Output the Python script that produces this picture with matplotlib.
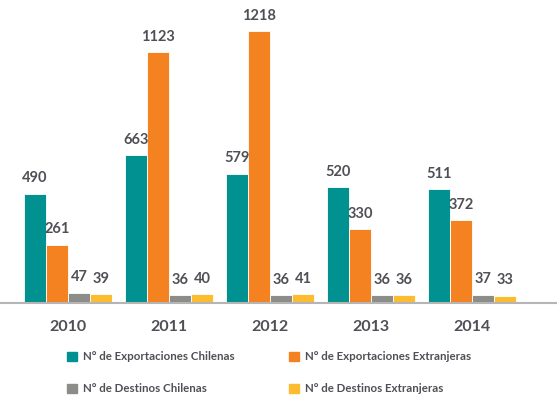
import matplotlib
matplotlib.use("Agg")
import matplotlib.pyplot as plt
from matplotlib.patches import Rectangle
import numpy as np

years = ["2010", "2011", "2012", "2013", "2014"]
series_names = ["N° de Exportaciones Chilenas", "N° de Exportaciones Extranjeras",
                "N° de Destinos Chilenas", "N° de Destinos Extranjeras"]
export_cl = [490, 663, 579, 520, 511]
export_ex = [261, 1123, 1218, 330, 372]
dest_cl = [47, 36, 36, 36, 37]
dest_ex = [39, 40, 41, 36, 33]
series = [export_cl, export_ex, dest_cl, dest_ex]
colors = ["#009190", "#f58220", "#8c8c88", "#fdbb30"]
text_color = "#4f5055"

plt.rcParams['font.family'] = ['Lato', 'DejaVu Sans']

W, H = 557, 397
fig = plt.figure(figsize=(W/100, H/100), dpi=100)
base_px = 303
ax = fig.add_axes([0, (H - base_px)/H, 1, base_px/H])

x = np.arange(len(years))
bw = 0.218
for i, (vals, c) in enumerate(zip(series, colors)):
    pos = x + (i - 1.5) * bw
    bars = ax.bar(pos, vals, width=bw, color=c, edgecolor="white", linewidth=0.6)
    for b, v in zip(bars, vals):
        ax.annotate(str(v), (b.get_x() + b.get_width()/2, v), xytext=(0, 6),
                    textcoords="offset points", ha="center", va="bottom",
                    fontsize=10.5, fontweight="bold", color=text_color)

ax.set_xlim(-0.673, 4.84)
ax.set_ylim(0, 1357)
for s in ["top", "right", "left"]:
    ax.spines[s].set_visible(False)
ax.spines["bottom"].set_color("#b5b5b5")
ax.spines["bottom"].set_linewidth(1.5)
ax.set_yticks([])
ax.set_xticks(x)
ax.set_xticklabels(years, fontsize=11.5, fontweight="bold", color=text_color)
ax.tick_params(axis="x", length=0, pad=12)

# legend
col_x = [67, 289]
row_y = [356, 388]
for i, (name, c) in enumerate(zip(series_names, colors)):
    r, cidx = i // 2, i % 2
    px, py = col_x[cidx], row_y[r]
    fig.patches.append(Rectangle((px/W, 1 - (py + 4.5)/H), 10/W, 9/H,
                                 transform=fig.transFigure, color=c))
    fig.text((px + 16)/W, 1 - py/H, name, fontsize=8.3, color=text_color,
             va="center", ha="left", fontweight="bold")

fig.savefig("out.png", dpi=100)
